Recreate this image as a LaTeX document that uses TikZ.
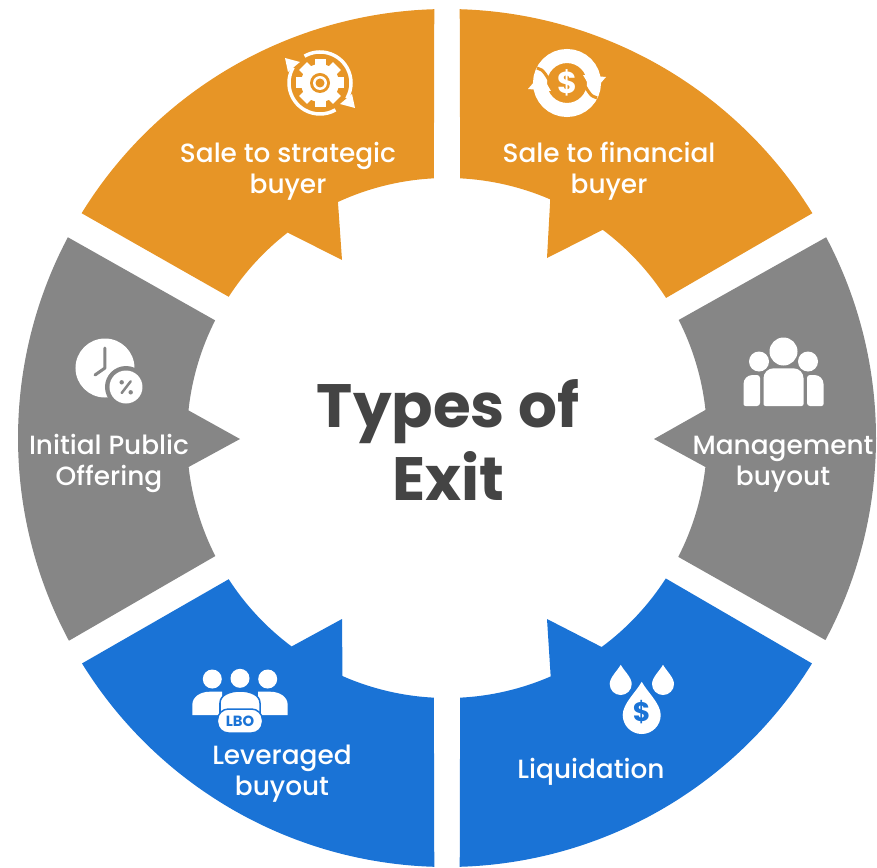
\documentclass[tikz,border=0pt]{standalone}
\usepackage{fontspec}
\setmainfont{Poppins}
\newfontfamily\labelfont{Poppins Medium}
\definecolor{saleorange}{HTML}{E79526}
\definecolor{exitgray}{HTML}{868686}
\definecolor{buyoutblue}{HTML}{1A73D6}
\definecolor{titledark}{HTML}{444444}
\tikzset{
  label text/.style={text=white,align=center,inner sep=0pt,font=\labelfont\fontsize{7.5}{8.8}\selectfont},
  title text/.style={text=titledark,align=center,inner sep=0pt,font=\fontsize{17.4}{20.8}\selectfont\bfseries},
  teardrop/.pic={\fill[white] (0,1.75) .. controls (.3,1.2) and (1,.6) .. (1,0) arc[start angle=0,end angle=-180,radius=1] .. controls (-1,.6) and (-.3,1.2) .. (0,1.75);}
}
\begin{document}
\begin{tikzpicture}[x=0.01cm,y=0.01cm]
        \useasboundingbox (-447,-429) rectangle (430,438);

        % Orange sectors
        \fill[saleorange] (91.7:429) arc[start angle=91.7,end angle=148.4,radius=429] -- (147.1:260) arc[start angle=147.1,end angle=127.8,radius=260] -- (-105,178) -- (114.8:260) arc[start angle=114.8,end angle=92.9,radius=260] -- cycle;
        \fill[saleorange] (88.3:429) arc[start angle=88.3,end angle=31.6,radius=429] -- (32.6:260) arc[start angle=32.6,end angle=53.2,radius=260] -- (100,180) -- (66.6:260) arc[start angle=66.6,end angle=87.1,radius=260] -- cycle;

        % Gray sectors
        \fill[exitgray] (152.1:429) arc[start angle=152.1,end angle=208.2,radius=429] -- (207:260) arc[start angle=207,end angle=186.4,radius=260] -- (-207,-1) -- (173.9:260) arc[start angle=173.9,end angle=153.1,radius=260] -- cycle;
        \fill[exitgray] (27.9:429) arc[start angle=27.9,end angle=-28.1,radius=429] -- (-27.2:260) arc[start angle=-27.2,end angle=-6.4,radius=260] -- (207,-1) -- (6.2:260) arc[start angle=6.2,end angle=27,radius=260] -- cycle;

        % Blue sectors
        \fill[buyoutblue] (211.7:429) arc[start angle=211.7,end angle=268.3,radius=429] -- (267.1:260) arc[start angle=267.1,end angle=246.3,radius=260] -- (-105,-181) -- (233.3:260) arc[start angle=233.3,end angle=212.9,radius=260] -- cycle;
        \fill[buyoutblue] (328.3:429) arc[start angle=328.3,end angle=271.7,radius=429] -- (272.9:260) arc[start angle=272.9,end angle=293.5,radius=260] -- (100,-181) -- (306.5:260) arc[start angle=306.5,end angle=327.3,radius=260] -- cycle;

        % Labels
        \node[title text] (title) at (1,-2) {Types of\\Exit};
        \node[label text] (strategic) at (-159,267) {Sale to strategic\\buyer};
        \node[label text] (financial) at (162,267) {Sale to financial\\buyer};
        \node[label text] (ipo) at (-338,-25) {Initial Public\\Offering};
        \node[label text] (management) at (336,-26) {Management\\buyout};
        \node[label text] (leveraged) at (-165,-336) {Leveraged\\buyout};
        \node[label text] (liquidation) at (144,-334) {Liquidation};

        % Gear icon
        \begin{scope}[shift={(-127,355)}]
        \fill[white] (0,0) circle[radius=19];
        \foreach \a in {0,45,...,315}
            \fill[white,rotate=\a] (-5.5,15) rectangle (5.5,24);
        \fill[saleorange] (0,0) circle[radius=10];
        \fill[white] (0,0) circle[radius=7];
        \fill[saleorange] (0,0) circle[radius=4.5];
        \draw[white,line width=.35mm] (150:31) arc[start angle=150,end angle=300,radius=31];
        \draw[white,line width=.35mm] (120:31) arc[start angle=120,end angle=-30,radius=31];
        \fill[white] (-35,25) -- (-20,21) -- (-32,11) -- cycle;
        \fill[white] (35,-25) -- (20,-21) -- (32,-11) -- cycle;
        \end{scope}

        % Circling dollar icon
        \begin{scope}[shift={(120,355)}]
        \draw[white,line width=1.4mm] (0,0) circle[radius=27];
        \draw[saleorange,line width=.3mm] (-30,15) .. controls (-23,14) and (-20,6) .. (-14,-4);
        \draw[saleorange,line width=.3mm] (30,-15) .. controls (23,-14) and (20,-6) .. (14,4);
        \fill[white] (-39,-6) -- (-26,9) -- (-16,-8) -- cycle;
        \fill[white] (39,6) -- (26,-9) -- (16,8) -- cycle;
        \node[text=white,inner sep=0pt,font=\fontsize{8.6}{9}\selectfont\bfseries] (dollarturn) at (0,0) {\$};
        \end{scope}

        % Clock icon
        \begin{scope}[shift={(-342,70)}]
        \fill[white] (0,0) circle[radius=29.5];
        \draw[exitgray,line width=.3mm,line cap=round,line join=round] (0,20) -- (0,0) -- (-10,-7);
        \fill[exitgray] (21,-19) circle[radius=21];
        \fill[white] (21,-19) circle[radius=16.5];
        \draw[exitgray,line width=.25mm,line cap=round] (16.7,-25) -- (25.7,-13.3);
        \fill[exitgray] (16.7,-14.3) circle[radius=2.2];
        \fill[exitgray] (25.7,-24.3) circle[radius=2.2];
        \end{scope}

        % Team icon
        \begin{scope}[shift={(336.5,58)}]
        \fill[white] (0,28.5) circle[radius=14];
        \fill[white] (-24.5,18.5) circle[radius=10];
        \fill[white] (24.5,18.5) circle[radius=10];
        \fill[white,rounded corners=.2mm] (-20,-26) -- (-20,0) [rounded corners=1mm] -- (-20,11.7) -- (20,11.7) [rounded corners=.2mm] -- (20,0) -- (20,-26) -- cycle;
        \fill[white,rounded corners=.2mm] (-23.5,-26) -- (-40,-26) -- (-40,-10) [rounded corners=.9mm] -- (-40,5) [rounded corners=.3mm] -- (-23.5,5) -- cycle;
        \fill[white,rounded corners=.2mm] (23.5,-26) -- (40,-26) -- (40,-10) [rounded corners=.9mm] -- (40,5) [rounded corners=.3mm] -- (23.5,5) -- cycle;
        \end{scope}

        % LBO icon
        \begin{scope}[shift={(-207,-267)}]
        \fill[white] (0,26.7) circle[radius=9.5];
        \fill[white] (-27.7,26) circle[radius=9.5];
        \fill[white] (27.7,26) circle[radius=9.5];
        \fill[white] (-47.7,-10) -- (-47.7,0) .. controls (-47.7,8) and (-40,13.3) .. (-30,13.3) -- (-18,13.3) -- (-18,-10) -- cycle;
        \fill[white] (47.7,-10) -- (47.7,0) .. controls (47.7,8) and (40,13.3) .. (30,13.3) -- (18,13.3) -- (18,-10) -- cycle;
        \draw[buyoutblue,fill=white,line width=.15mm] (-20,-10) -- (-20,2) .. controls (-20,10) and (-10,14) .. (0,14) .. controls (10,14) and (20,10) .. (20,2) -- (20,-10) -- cycle;
        \node[draw=buyoutblue,fill=white,line width=.15mm,rounded corners=1.1mm,minimum width=4.5mm,minimum height=2.4mm,inner sep=0pt,text=buyoutblue,font=\fontsize{4.2}{5}\selectfont\bfseries] (lbo) at (0,-16) {LBO};
        \end{scope}

        % Drops icon
        \pic[scale=11] at (173.7,-246) {teardrop};
        \pic[scale=11] at (216,-246) {teardrop};
        \begin{scope}[shift={(194.7,-277)}]
        \pic[scale=19] at (0,0) {teardrop};
        \node[text=buyoutblue,inner sep=0pt,font=\fontsize{7.6}{8}\selectfont\bfseries] (dollardrop) at (0,3) {\$};
        \end{scope}

    \end{tikzpicture}
\end{document}
